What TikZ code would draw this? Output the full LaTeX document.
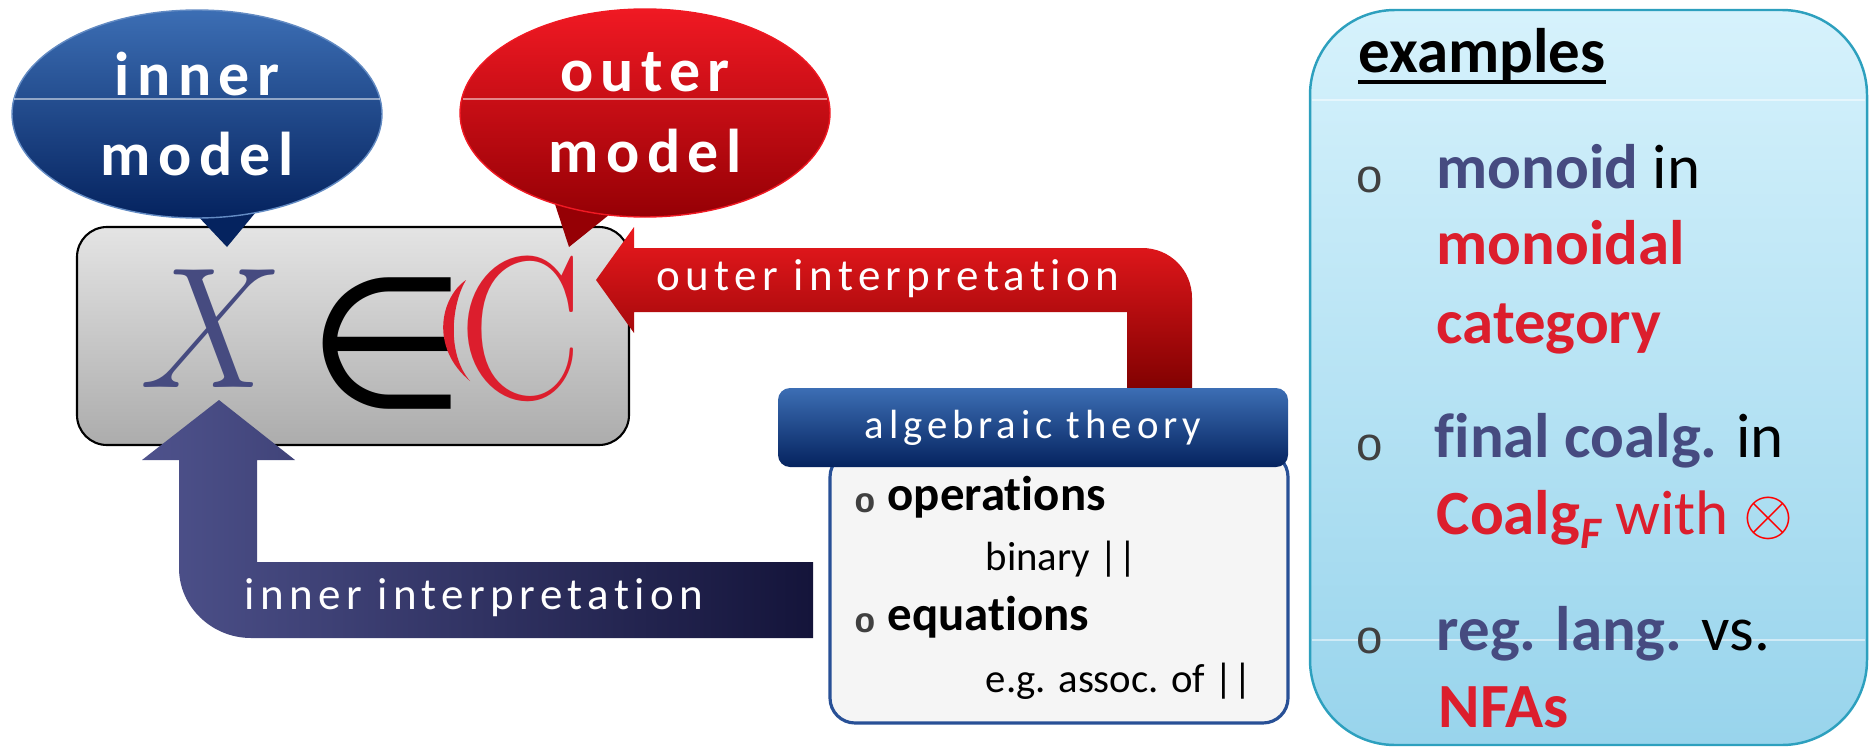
\documentclass[tikz,border=0pt]{standalone}
\usepackage{amssymb}
\usepackage{graphicx}
\usepackage{fontspec}
\setmainfont{Carlito}[Ligatures=NoCommon]
\newfontfamily\spaced{Carlito}[LetterSpace=12,Ligatures=NoCommon]
\newfontfamily\lmserif{Latin Modern Roman}
\newfontfamily\monofont{Liberation Mono}
\newfontfamily\dejavu{DejaVu Sans}
\usetikzlibrary{positioning,calc,shapes.geometric}
\tikzset{>=stealth}
\definecolor{slate}{RGB}{70,75,128}
\definecolor{catred}{RGB}{220,30,45}
\definecolor{navytop}{RGB}{60,110,180}
\definecolor{navybot}{RGB}{5,35,95}
\definecolor{redtop}{RGB}{240,25,35}
\definecolor{redbot}{RGB}{150,0,5}
\definecolor{boxtop}{RGB}{228,228,228}
\definecolor{boxbot}{RGB}{172,172,172}
\definecolor{inleft}{RGB}{78,82,140}
\definecolor{inright}{RGB}{20,20,58}
\definecolor{outtop}{RGB}{235,25,30}
\definecolor{outmid}{RGB}{205,0,10}
\definecolor{outbot}{RGB}{125,0,0}
\definecolor{bodyline}{RGB}{40,80,150}
\definecolor{extop}{RGB}{214,242,252}
\definecolor{exbot}{RGB}{152,212,236}
\definecolor{exline}{RGB}{45,160,190}
\tikzset{
  bubble/.style={ellipse,minimum width=37mm,minimum height=20.8mm,inner sep=0pt,
    align=center,text=white,font={\spaced\bfseries\fontsize{17.6}{23}\selectfont}},
  modelbox/.style={rectangle,rounded corners=3mm,minimum width=55.2mm,minimum height=21.8mm,
    draw=black,line width=.6pt,top color=boxtop,bottom color=boxbot},
  arrowtext/.style={text=white,inner sep=0pt,font={\spaced\fontsize{12.8}{14}\selectfont}},
  theoryhead/.style={rectangle,rounded corners=1.2mm,minimum width=51mm,minimum height=7.9mm,
    top color=navytop,bottom color=navybot,text=white,
    font={\spaced\fontsize{11.6}{13}\selectfont}},
  theorybody/.style={rectangle,rounded corners=2.5mm,minimum width=45.8mm,minimum height=27.1mm,
    draw=bodyline,line width=.9pt,fill=black!4},
  bodyitem/.style={anchor=base west,inner sep=0pt,font={\fontsize{11.6}{14}\selectfont}},
  bodyhead/.style={anchor=base west,inner sep=0pt,font={\bfseries\fontsize{13.9}{16}\selectfont}},
  bulletmark/.style={inner sep=0pt,text=black!75,font={\monofont\fontsize{#1}{#1}\selectfont}},
  exbox/.style={rectangle,rounded corners=8.5mm,minimum width=55.7mm,minimum height=73.5mm,
    draw=exline,line width=.7pt,top color=extop,bottom color=exbot},
  exitem/.style={anchor=base west,inner sep=0pt,font={\fontsize{17.9}{21}\selectfont}},
  gloss/.style={white,opacity=.5,line width=.4pt}
}
\begin{document}
\begin{tikzpicture}[x=0.1mm,y=-0.1mm]
\useasboundingbox (0,0) rectangle (1869,747);
% the model X in C
\node[modelbox] (model) at (353,336) {};
\node[text=slate,inner sep=0pt] (xsym) at (198,329) {\lmserif\itshape\fontsize{49}{49}\selectfont X};
\node[inner sep=0pt] (elem) at (387,344) {\dejavu\fontsize{52}{52}\selectfont ∈};
\node[text=catred,inner sep=0pt] (cat) at (521,329) {\scalebox{.9}[1]{\lmserif\fontsize{58}{58}\selectfont C}};
\fill[catred] (466,280) .. controls (440,298) and (430,348) .. (470,381)
  .. controls (446,353) and (452,303) .. cycle;

% interpretation arrows
\shade[left color=inleft,right color=inright]
  (219,400) -- (295,460) -- (257,460) -- (257,562) -- (813,562) -- (813,638) -- (251,638)
  .. controls (212,638) and (179,607) .. (179,568) -- (179,460) -- (142,460) -- cycle;
\node[arrowtext] (inint) at (474,598) {inner interpretation};
\shade[top color=outtop,middle color=outmid,bottom color=outbot]
  (596,280) -- (634,227) -- (634,248) -- (1142,248)
  .. controls (1170,248) and (1192,270) .. (1192,298)
  -- (1192,395) -- (1127,395) -- (1127,312) -- (634,312) -- (634,333) -- cycle;
\node[arrowtext] (outint) at (888,279) {outer interpretation};

% speech bubbles
\fill[navybot] (178,195) -- (227,247) -- (270,195) -- cycle;
\fill[redbot] (552,195) -- (569,247) -- (630,198) -- cycle;
\node[bubble,top color=navytop,bottom color=navybot,draw=navytop!80] (inner) at (197,114) {inner\\model};
\node[bubble,top color=redtop,bottom color=redbot,draw=redtop] (outer) at (645,113) {outer\\model};
\draw[gloss] (14,99) -- (380,99);
\draw[gloss] (463,99) -- (827,99);

% algebraic theory
\node[theorybody] (body) at (1059,587.5) {};
\node[theoryhead] (theory) at (1033,427.5) {algebraic theory};
\node[bulletmark=10,font={\monofont\bfseries\fontsize{10}{10}\selectfont}] (b1) at (865,503) {o};
\node[bodyhead] (ops) at (887,510) {operations};
\node[bodyitem] (bin) at (985,570) {binary ||};
\node[bulletmark=10,font={\monofont\bfseries\fontsize{10}{10}\selectfont}] (b2) at (865,623) {o};
\node[bodyhead] (eqs) at (887,630) {equations};
\node[bodyitem] (assoc) at (985,692) {e.g. assoc. of ||};

% examples
\node[exbox] (exam) at (1588.5,377.5) {};
\draw[gloss] (1312,100) -- (1865,100);
\draw[gloss] (1312,640) -- (1865,640);
\node[exitem,font={\bfseries\fontsize{17.9}{21}\selectfont}] (title) at (1358,72) {examples};
\draw[line width=.4mm] ($(title.south west)+(0,-1)$) -- ($(title.south east)+(0,-1)$);
\node[bulletmark=13.5] (e1) at (1370,180) {o};
\node[exitem] (ex1a) at (1436,188) {\textbf{\color{slate}monoid} in};
\node[exitem,text=catred] (ex1b) at (1436,264) {\textbf{monoidal}};
\node[exitem,text=catred] (ex1c) at (1436,343) {\textbf{category}};
\node[bulletmark=13.5] (e2) at (1370,448) {o};
\node[exitem] (ex2a) at (1434,457) {\textbf{\color{slate}final coalg.} in};
\node[exitem,text=catred] (ex2b) at (1436,534) {\textbf{Coalg}\raisebox{-4pt}{\fontsize{12.8}{13}\selectfont\bfseries\itshape F} with};
\node[text=red,inner sep=0pt] (tensor) at (1768,518) {\scalebox{1.83}{$\otimes$}};
\node[bulletmark=13.5] (e3) at (1370,641) {o};
\node[exitem] (ex3a) at (1436,650) {\textbf{\color{slate}reg. lang.} vs.};
\node[exitem,text=catred] (ex3b) at (1438,727) {\textbf{NFAs}};
\end{tikzpicture}
\end{document}
